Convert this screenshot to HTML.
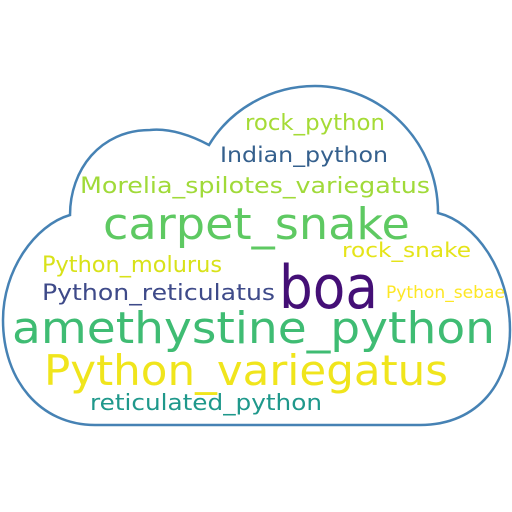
<!DOCTYPE html>
<html><head><meta charset="utf-8"><style>html,body{margin:0;padding:0;background:#fff}svg{display:block}text{font-family:"DejaVu Sans","Liberation Sans",sans-serif}</style></head>
<body>
<svg width="512" height="512" viewBox="0 0 512 512">
<rect width="512" height="512" fill="#fff"/>
<path fill="none" stroke="#4682b4" stroke-width="2.5" d="M95 425 L420 425 C480 425 510 380 510 330 C510 270 475 222 438 213 C438 140 380 86 315 86 C270 86 230 110 209 145 C190 135 170 128 150 130 C100 130 70 170 70 215 C35 225 3 270 3 320 C3 380 40 425 95 425 Z"/>
<g id="words"></g>
</svg>
<script>
const words=["rock_python","Indian_python","Morelia_spilotes_variegatus","carpet_snake","rock_snake","Python_molurus","boa","Python_reticulatus","Python_sebae","amethystine_python","Python_variegatus","reticulated_python"];
const sizes=[22,21,22,44,20,22,60,22,17,44,42,22];
const colors=["#a5db36","#35608d","#a0da39","#5ec962","#e5e419","#d8e219","#440f76","#3e4a89","#fde725","#3fbc73","#f0e51c","#1f988b"];
const layout=[[245,130,140],[220,162,168],[80,193,350],[103,239,307],[342,257,129],[42,272,180],[279,308,99],[42,300,233],[386,298,119],[12,343,483],[44,385,404],[90,410,232]];
const g=document.getElementById('words');
words.forEach((w,i)=>{
 const t=document.createElementNS('http://www.w3.org/2000/svg','text');
 t.setAttribute('x',layout[i][0]);t.setAttribute('y',layout[i][1]);
 t.setAttribute('font-size',sizes[i]);t.setAttribute('fill',colors[i]);
 t.setAttribute('textLength',layout[i][2]);t.setAttribute('lengthAdjust','spacingAndGlyphs');
 t.textContent=w;
 
 
 g.appendChild(t);
});
</script>
</body></html>
